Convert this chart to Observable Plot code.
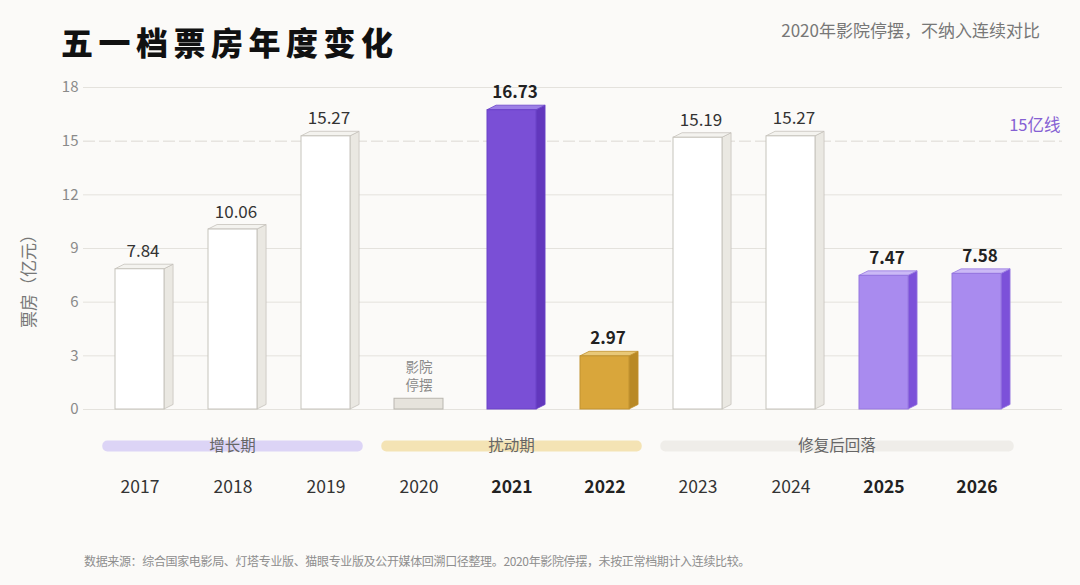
<!DOCTYPE html>
<html>
<head>
<meta charset="utf-8">
<script src="https://cdn.jsdelivr.net/npm/d3@7"></script>
<script src="https://cdn.jsdelivr.net/npm/@observablehq/plot@0.6"></script>
<style>
  html, body { margin: 0; padding: 0; background: #fbfaf8; }
  #wrap { position: relative; width: 1080px; height: 585px; overflow: hidden; background: #fbfaf8;
          font-family: "Noto Sans CJK SC", "Noto Sans", sans-serif; }
  #chart { position: absolute; left: 0; top: 0; }
  #title { position: absolute; left: 61px; top: 21px; line-height: 40px; font-size: 32px; font-weight: 900;
           letter-spacing: 5.5px; color: #111; white-space: nowrap; }
  #subtitle { position: absolute; right: 40px; top: 19px; line-height: 22px; font-size: 17px; color: #777; white-space: nowrap; }
  #footer { position: absolute; left: 84px; top: 553px; line-height: 16px; font-size: 12px; letter-spacing: -0.35px;
            color: #8e8e8e; white-space: nowrap; }
  #ylabel { position: absolute; left: 28px; top: 277px; width: 0; height: 0; }
  #ylabel span { position: absolute; left: 0; top: 0; transform: translate(-50%, -50%) rotate(-90deg);
                 font-size: 17px; line-height: 20px; color: #777; white-space: nowrap; }
</style>
</head>
<body>
<div id="wrap">
  <div id="chart"></div>
  <div id="title"></div>
  <div id="subtitle"></div>
  <div id="ylabel"><span></span></div>
  <div id="footer"></div>
</div>
<script>
// ---------- data ----------
const titleText = "五一档票房年度变化";
const subtitleText = "2020年影院停摆，不纳入连续对比";
const footerText = "数据来源：综合国家电影局、灯塔专业版、猫眼专业版及公开媒体回溯口径整理。2020年影院停摆，未按正常档期计入连续比较。";
const yLabel = "票房（亿元）";

const years = ["2017", "2018", "2019", "2020", "2021", "2022", "2023", "2024", "2025", "2026"];
const boxOffice = [7.84, 10.06, 15.27, null, 16.73, 2.97, 15.19, 15.27, 7.47, 7.58];
const barKinds = ["base", "base", "base", "pause", "peak", "low", "base", "base", "recent", "recent"];
const boldYears = ["2021", "2022", "2025", "2026"];
const pauseStub = 0.6;
const pauseNote = "影院\n停摆";

const yTicks = [0, 3, 6, 9, 12, 15, 18];
const threshold = 15;
const thresholdLabel = "15亿线";

const phaseNames = ["增长期", "扰动期", "修复后回落"];
const phaseStart = ["2017", "2020", "2023"];
const phaseEnd = ["2019", "2022", "2026"];

// ---------- styles ----------
const palette = {
  base:   {front: "#ffffff", side: "#eae8e2", top: "#f4f3ef", stroke: "#c6c3bc"},
  peak:   {front: "#7a4fd6", side: "#6237bd", top: "#9d80e6", stroke: "#6a43c8"},
  low:    {front: "#d9a63b", side: "#b98925", top: "#e9c877", stroke: "#c19230"},
  recent: {front: "#a98bef", side: "#7c51d9", top: "#cbb9f6", stroke: "#9676e0"}
};
const phaseColors = ["#dcd4f6", "#f4e3b4", "#efede9"];

// ---------- tables ----------
const bars = years.map((year, i) => ({year, value: boxOffice[i], kind: barKinds[i], bold: boldYears.includes(year)}));
const solid = bars.filter(d => d.value != null);
const pause = bars.filter(d => d.kind === "pause");
const phases = phaseNames.map((name, i) => ({name, start: phaseStart[i], end: phaseEnd[i], color: phaseColors[i]}));

document.getElementById("title").textContent = titleText;
document.getElementById("subtitle").textContent = subtitleText;
document.getElementById("footer").textContent = footerText;
document.querySelector("#ylabel span").textContent = yLabel;

// ---------- custom renders ----------
function bars3d(index, scales) {
  const bw = scales.x.bandwidth();
  const depth = bw * 0.185, rise = depth * 0.5;
  const g = d3.create("svg:g");
  for (const i of index) {
    const d = solid[i];
    const c = palette[d.kind];
    const x0 = scales.x(d.year), x1 = x0 + bw;
    const yb = scales.y(0), yt = scales.y(d.value);
    g.append("path")
      .attr("d", `M${x1},${yt}L${x1 + depth},${yt - rise}L${x1 + depth},${yb - rise}L${x1},${yb}Z`)
      .attr("fill", c.side).attr("stroke", c.stroke).attr("stroke-width", 0.8).attr("stroke-linejoin", "round");
    g.append("path")
      .attr("d", `M${x0},${yt}L${x0 + depth},${yt - rise}L${x1 + depth},${yt - rise}L${x1},${yt}Z`)
      .attr("fill", c.top).attr("stroke", c.stroke).attr("stroke-width", 0.8).attr("stroke-linejoin", "round");
    g.append("rect")
      .attr("x", x0).attr("y", yt).attr("width", bw).attr("height", yb - yt)
      .attr("fill", c.front).attr("stroke", c.stroke).attr("stroke-width", 1);
  }
  return g.node();
}

function pills(index, scales, values, dims) {
  const bw = scales.x.bandwidth(), step = scales.x.step();
  const yc = dims.height - dims.marginBottom + 37;
  const h = 11;
  const g = d3.create("svg:g");
  for (const i of index) {
    const p = phases[i];
    const a = scales.x(p.start) + bw / 2 - step * 0.4;
    const b = scales.x(p.end) + bw / 2 + step * 0.4;
    g.append("rect").attr("x", a).attr("y", yc - h / 2).attr("width", b - a).attr("height", h)
      .attr("rx", 5).attr("fill", p.color);
    g.append("text").attr("x", (a + b) / 2).attr("y", yc).attr("text-anchor", "middle")
      .attr("dy", "0.35em").attr("font-size", 15.5).attr("fill", "#666").text(p.name);
  }
  return g.node();
}

// ---------- chart ----------
const chart = Plot.plot({
  width: 1080,
  height: 585,
  marginTop: 87,
  marginBottom: 176,
  marginLeft: 83,
  marginRight: 18,
  style: {fontFamily: "\"Noto Sans CJK SC\", \"Noto Sans\", sans-serif", background: "transparent", overflow: "visible"},
  x: {type: "band", domain: years, paddingInner: 0.475, paddingOuter: 0.485, align: 0.348, axis: null},
  y: {domain: [0, 18], axis: null},
  marks: [
    Plot.ruleY(yTicks.filter(t => t !== threshold), {stroke: "#e4e2dd", strokeWidth: 1}),
    Plot.ruleY([threshold], {stroke: "#dcdad4", strokeWidth: 1, strokeDasharray: "12,4"}),
    Plot.axisY({ticks: yTicks, tickSize: 0, tickPadding: 5, fontSize: 15, color: "#8a8a8a", label: null}),
    Plot.text([threshold], {y: d => d, text: () => thresholdLabel, frameAnchor: "right", textAnchor: "end",
      dx: -2, dy: -15, fontSize: 16.5, fill: "#8560d3"}),
    Plot.barY(pause, {x: "year", y: () => pauseStub, fill: "#e6e3dc", stroke: "#b9b6af", strokeWidth: 1}),
    Plot.text(pause, {x: "year", y: () => pauseStub, text: () => pauseNote, lineAnchor: "bottom", dy: -9,
      fontSize: 13.5, lineHeight: 1.35, fill: "#8a8a8a"}),
    Plot.barY(solid, {x: "year", y: "value", render: bars3d}),
    Plot.text(solid.filter(d => !d.bold), {x: "year", y: "value", text: d => d.value.toFixed(2),
      lineAnchor: "bottom", dx: 3, dy: -12, fontSize: 17, fill: "#333"}),
    Plot.text(solid.filter(d => d.bold), {x: "year", y: "value", text: d => d.value.toFixed(2),
      lineAnchor: "bottom", dx: 3, dy: -12, fontSize: 17, fontWeight: "bold", fill: "#222"}),
    Plot.text(phases, {x: "start", text: "name", render: pills}),
    Plot.text(bars.filter(d => !d.bold), {x: "year", text: "year", frameAnchor: "bottom", dy: 83,
      fontSize: 17.5, fill: "#333"}),
    Plot.text(bars.filter(d => d.bold), {x: "year", text: "year", frameAnchor: "bottom", dy: 83,
      fontSize: 17.5, fontWeight: "bold", fill: "#222"})
  ]
});
document.getElementById("chart").appendChild(chart);
</script>
</body>
</html>
